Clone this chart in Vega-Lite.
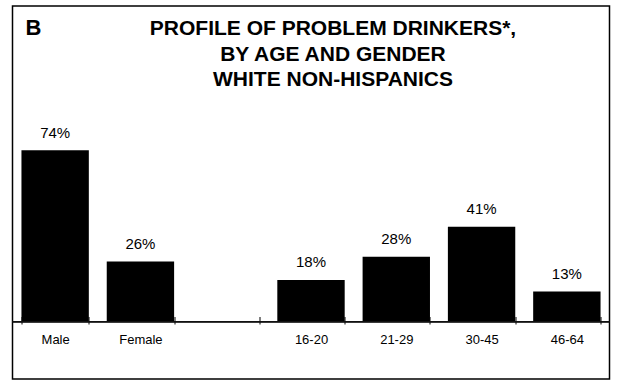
{
  "$schema": "https://vega.github.io/schema/vega-lite/v6.json",
  "width": 597,
  "height": 373,
  "padding": {"left": 11.5, "top": 6, "right": 9.5, "bottom": 2},
  "autosize": {"type": "pad"},
  "background": "white",
  "title": {
    "text": ["PROFILE OF PROBLEM DRINKERS*,", "BY AGE AND GENDER", "WHITE NON-HISPANICS"],
    "font": "Liberation Sans",
    "fontSize": 21,
    "fontWeight": "bold",
    "color": "black",
    "lineHeight": 25.5,
    "anchor": "middle",
    "frame": "group",
    "dx": 22,
    "offset": -84
  },
  "data": {
    "values": [
      {"group": "Male", "share": 0.74},
      {"group": "Female", "share": 0.26},
      {"group": "16-20", "share": 0.18},
      {"group": "21-29", "share": 0.28},
      {"group": "30-45", "share": 0.41},
      {"group": "46-64", "share": 0.13}
    ]
  },
  "encoding": {
    "y": {
      "field": "share",
      "type": "quantitative",
      "scale": {"domain": [-0.248, 1.363], "nice": false, "zero": false},
      "axis": {
        "title": "B",
        "titleAngle": 0,
        "titleX": 12.5,
        "titleY": 28.3,
        "titleAlign": "left",
        "titleBaseline": "alphabetic",
        "titleFont": "Liberation Sans",
        "titleFontSize": 22,
        "titleFontWeight": "bold",
        "titleColor": "black",
        "labels": false,
        "ticks": false,
        "domain": false,
        "grid": false
      }
    }
  },
  "layer": [
    {
      "mark": {"type": "bar", "color": "black"},
      "encoding": {
        "x": {
          "field": "group",
          "type": "nominal",
          "sort": null,
          "scale": {
            "domain": ["Male", "Female", " ", "16-20", "21-29", "30-45", "46-64"],
            "paddingInner": 0.21,
            "paddingOuter": 0.105
          },
          "axis": {
            "title": null,
            "orient": "bottom",
            "offset": -62.5,
            "domain": false,
            "grid": false,
            "ticks": true,
            "tickBand": "extent",
            "tickSize": 7.5,
            "tickColor": "black",
            "tickWidth": 1,
            "labelAngle": 0,
            "labelFont": "Liberation Sans",
            "labelFontSize": 13,
            "labelColor": "black",
            "labelBaseline": "alphabetic",
            "labelPadding": 19.5
          }
        },
        "y2": {"datum": 0}
      }
    },
    {
      "mark": {
        "type": "text",
        "dy": -12.5,
        "baseline": "alphabetic",
        "font": "Liberation Sans",
        "fontSize": 15,
        "fontWeight": "normal",
        "color": "black"
      },
      "encoding": {
        "x": {"field": "group", "type": "nominal", "sort": null},
        "text": {"field": "share", "type": "quantitative", "format": ".0%"}
      }
    },
    {
      "mark": {"type": "rule", "color": "#111111", "strokeWidth": 1.3},
      "encoding": {"y": {"datum": 0}}
    }
  ],
  "config": {
    "view": {"stroke": "black", "strokeWidth": 1.5, "fill": "white"}
  }
}
